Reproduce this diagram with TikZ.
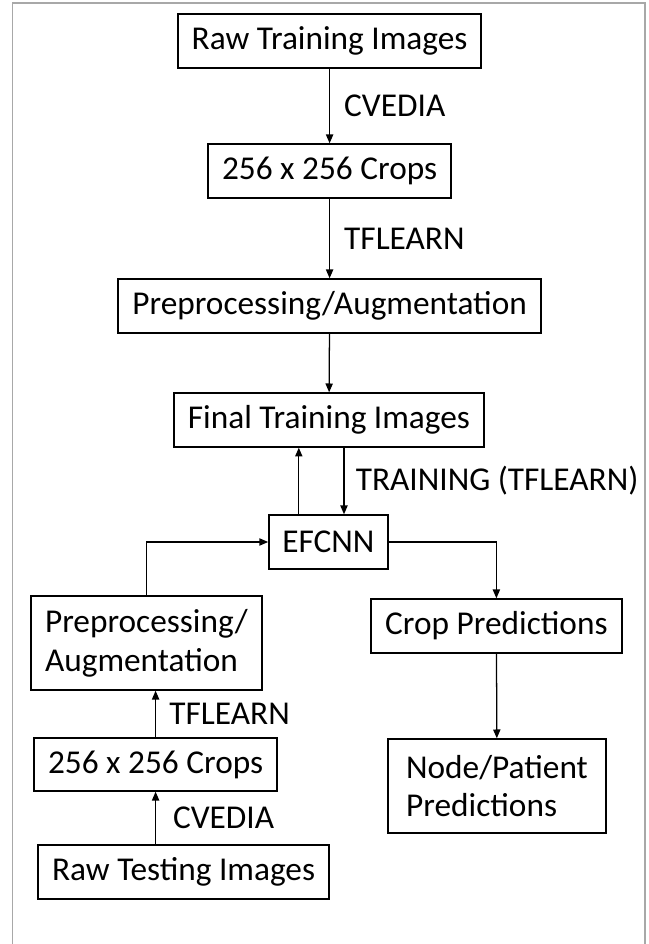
\documentclass[tikz,border=0pt]{standalone}
\usepackage{fontspec}
\setmainfont{Carlito}
\usetikzlibrary{arrows.meta, calc}
\definecolor{cframe}{HTML}{A8A8A8}
\tikzset{
  every picture/.style={font=\fontsize{23.7}{27.5}\selectfont, line width=1pt},
  box/.style={draw=black, align=left, inner sep=0pt, minimum height=1.35cm},
  tallbox/.style={box, minimum height=2.35cm},
  arrow/.style={-{Triangle[length=2.2mm, width=1.8mm]}, line width=0.9pt},
  lbl/.style={inner sep=0pt},
}

\begin{document}
\begin{tikzpicture}[x=1cm, y=1cm]
  \useasboundingbox (0,0) rectangle (16.225,23.6);
  % outer frame
  \draw[cframe, line width=1.1pt] (0.31,0) -- (0.31,23.53) -- (16.12,23.53) -- (16.12,0);
  % training branch
  \node[box, minimum width=7.575cm] (rawtrain) at (8.24,22.575) {Raw Training Images};
  \node[box, minimum width=6.075cm] (crops) at (8.24,19.325) {256 x 256 Crops};
  \node[box, minimum width=10.575cm] (prep) at (8.24,15.95) {Preprocessing/Augmentation};
  \node[box, minimum width=7.75cm] (final) at (8.225,13.1) {Final Training Images};
  \node[box, minimum width=2.975cm] (efcnn) at (8.21,10.05) {EFCNN};
  \coordinate (upfoot) at ($(efcnn.north)+(-0.74,0)$);
  \coordinate (downfoot) at ($(efcnn.north)+(0.39,0)$);
  \draw[arrow] (rawtrain) -- node[lbl, right=0.35cm] {CVEDIA} (crops);
  \draw[arrow] (crops) -- node[lbl, right=0.35cm] {TFLEARN} (prep);
  \draw[arrow] (prep) -- (final);
  \draw[arrow] (upfoot) -- (upfoot |- final.south);
  \draw[arrow] (downfoot |- final.south) -- node[lbl, right=0.28cm] {TRAINING (TFLEARN)} (downfoot);
  % testing branch
  \node[tallbox, minimum width=5.775cm] (prep2) at (3.66,7.525) {Preprocessing/\\Augmentation};
  \node[box, minimum width=6.075cm, minimum height=1.325cm] (crops2) at (3.89,4.4875) {256 x 256 Crops};
  \node[box, minimum width=7.275cm] (rawtest) at (4.59,1.8) {Raw Testing Images};
  \draw[arrow] (crops2.south |- rawtest.north) -- node[lbl, right=0.42cm] {CVEDIA} (crops2.south);
  \draw[arrow] (crops2.north) -- node[lbl, right=0.33cm] {TFLEARN} (crops2.north |- prep2.south);
  \draw[arrow] (prep2.north) |- (efcnn.west);
  % predictions
  \node[box, minimum width=6.275cm] (croppred) at (12.41,7.95) {Crop Predictions};
  \node[tallbox, minimum width=5.45cm] (nodepred) at (12.425,3.95) {Node/Patient\\Predictions};
  \draw[arrow] (efcnn.east) -| (croppred.north);
  \draw[arrow] (croppred) -- (nodepred);
\end{tikzpicture}
\end{document}
